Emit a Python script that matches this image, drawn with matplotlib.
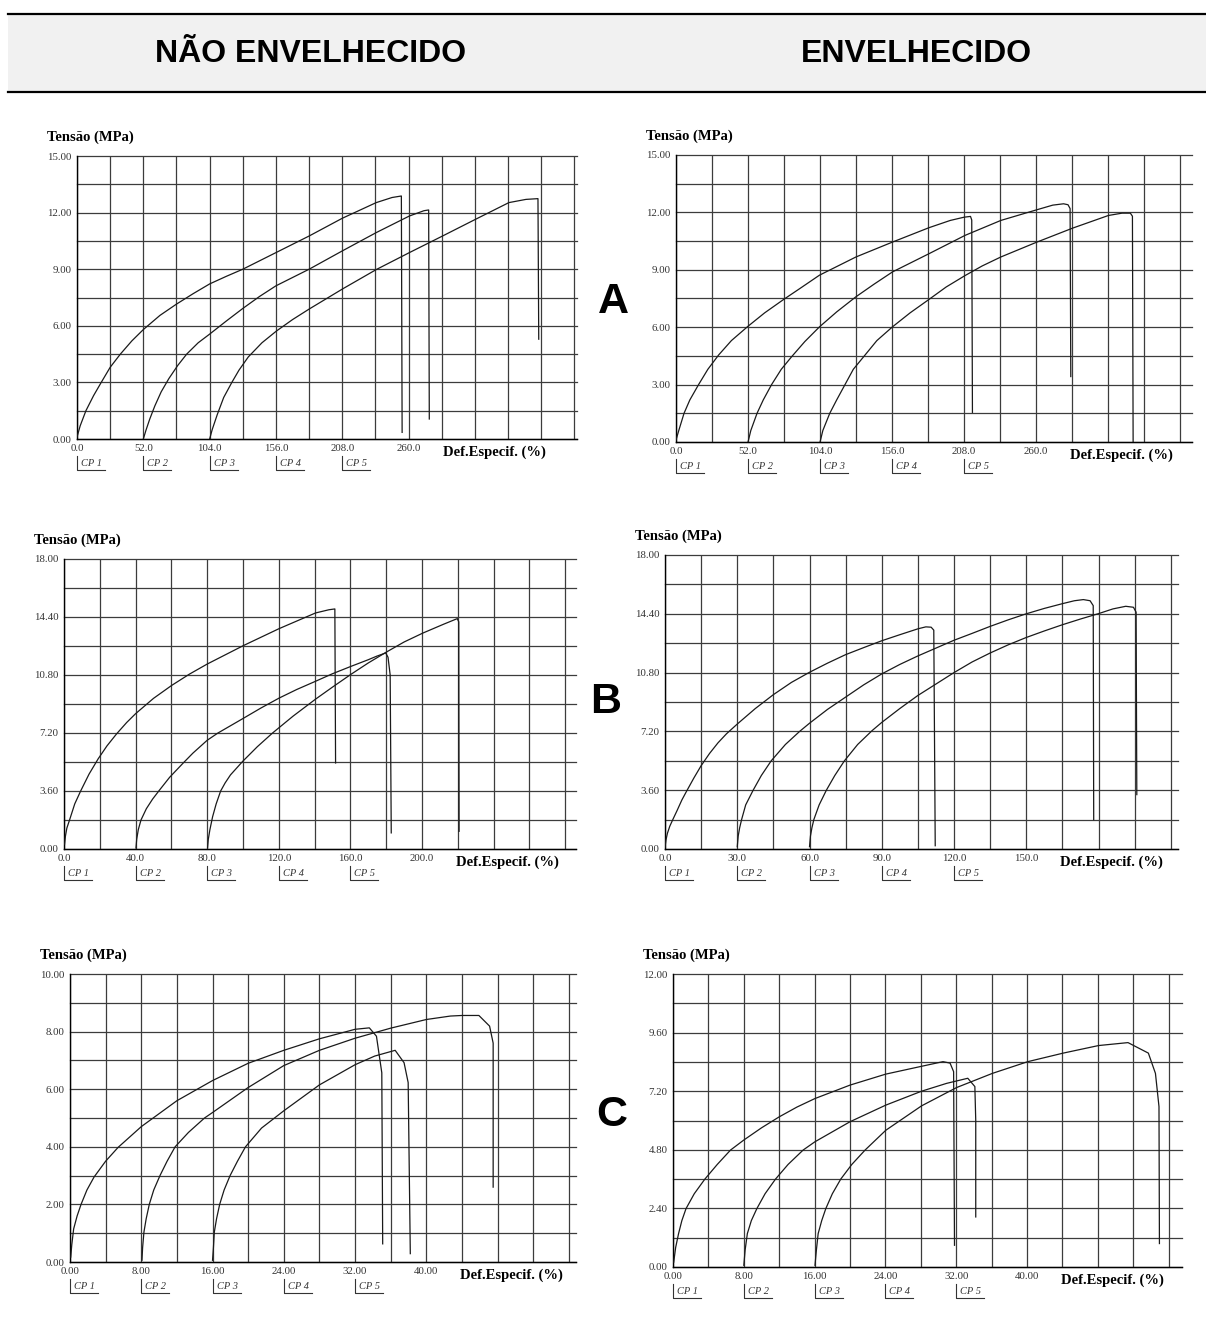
import numpy as np
import matplotlib
matplotlib.use("Agg")
import matplotlib.pyplot as plt
from matplotlib.lines import Line2D
from matplotlib.patches import Rectangle

W, H = 1206, 1334

# ---------------- data ----------------
header_left = "NÃO ENVELHECIDO"
header_right = "ENVELHECIDO"
row_letters = ["A", "B", "C"]
y_title = "Tensão (MPa)"
x_title = "Def.Especif. (%)"
cp_labels = ["CP 1", "CP 2", "CP 3", "CP 4", "CP 5"]

# Row A
a_xticks = [0, 52, 104, 156, 208, 260]
a_xticklabels = ["0.0", "52.0", "104.0", "156.0", "208.0", "260.0"]
a_yticks = [0, 3, 6, 9, 12, 15]
a_yticklabels = ["0.00", "3.00", "6.00", "9.00", "12.00", "15.00"]

# A - não envelhecido
al_cp1_x = [0, 2.5, 7, 13, 19, 26, 34, 43, 52, 65, 78, 91, 104, 117, 130, 156, 182, 208, 234.6, 247, 254.3, 254.9]
al_cp1_y = [0.1, 0.7, 1.5, 2.3, 3.0, 3.8, 4.5, 5.2, 5.8, 6.55, 7.15, 7.7, 8.22, 8.62, 9.0, 9.88, 10.76, 11.7, 12.53, 12.8, 12.88, 0.35]
al_cp2_x = [52, 54, 57, 61, 66, 72, 79, 86, 95, 104, 117, 130, 143, 156, 182, 208, 234.6, 260.6, 272, 275.7, 276.2]
al_cp2_y = [0.0, 0.45, 1.05, 1.75, 2.5, 3.2, 3.9, 4.5, 5.1, 5.56, 6.25, 6.92, 7.55, 8.12, 9.0, 9.97, 10.94, 11.82, 12.1, 12.14, 1.06]
al_cp3_x = [104, 106, 110, 115, 121.4, 127, 134.3, 145, 156.3, 169, 182.3, 208.6, 234.6, 260.6, 286.6, 312.6, 338.6, 352, 361.4, 362]
al_cp3_y = [0.0, 0.5, 1.3, 2.2, 3.0, 3.65, 4.35, 5.1, 5.72, 6.33, 6.9, 7.97, 8.98, 9.88, 10.76, 11.65, 12.53, 12.7, 12.74, 5.29]

# A - envelhecido
ar_cp1_x = [0, 2, 5.8, 10, 16.3, 23, 30.8, 40, 52, 64, 77.7, 90, 103.6, 129.9, 156.3, 182.6, 198, 208, 212.6, 213.5, 214]
ar_cp1_y = [0.1, 0.6, 1.5, 2.2, 3.0, 3.8, 4.55, 5.3, 6.05, 6.75, 7.45, 8.05, 8.72, 9.67, 10.45, 11.2, 11.58, 11.75, 11.79, 11.6, 1.55]
ar_cp2_x = [52, 54, 58.5, 63, 69, 76, 83.5, 93, 103.6, 116, 129.9, 143, 156.3, 182.6, 208.7, 234.5, 260.6, 272, 279.8, 283, 284.5, 285]
ar_cp2_y = [0.0, 0.6, 1.5, 2.2, 3.0, 3.8, 4.46, 5.25, 6.02, 6.8, 7.59, 8.25, 8.89, 9.84, 10.8, 11.58, 12.14, 12.38, 12.45, 12.4, 12.2, 3.42]
ar_cp3_x = [104, 106, 111, 116, 122, 128, 135.5, 145, 156.3, 169, 182.6, 195, 208.7, 221, 234.5, 260.6, 286.4, 312.2, 322, 328, 329.5, 330]
ar_cp3_y = [0.0, 0.6, 1.5, 2.2, 3.0, 3.8, 4.46, 5.3, 6.02, 6.75, 7.45, 8.1, 8.7, 9.2, 9.67, 10.45, 11.18, 11.84, 11.96, 11.96, 11.8, 0.0]

# Row B
bl_xticks = [0, 40, 80, 120, 160, 200]
bl_xticklabels = ["0.0", "40.0", "80.0", "120.0", "160.0", "200.0"]
br_xticks = [0, 30, 60, 90, 120, 150]
br_xticklabels = ["0.0", "30.0", "60.0", "90.0", "120.0", "150.0"]
b_yticks = [0, 3.6, 7.2, 10.8, 14.4, 18]
b_yticklabels = ["0.00", "3.60", "7.20", "10.80", "14.40", "18.00"]

bl_cp1_x = [0.3, 0.8, 1.6, 3.1, 6, 9.3, 14, 19.1, 24, 29.4, 35, 40, 50, 60.1, 70, 80, 100.1, 120.2, 140.5, 148, 151.3, 151.7]
bl_cp1_y = [0.3, 0.8, 1.3, 1.8, 2.8, 3.6, 4.65, 5.6, 6.4, 7.15, 7.85, 8.4, 9.35, 10.15, 10.85, 11.48, 12.62, 13.68, 14.65, 14.85, 14.9, 5.34]
bl_cp2_x = [40.2, 40.6, 41.5, 43, 46, 49.5, 53.3, 59, 66.7, 72, 80, 86, 100, 110, 120.2, 130, 140.5, 150, 160.4, 170, 174.5, 179.7, 181, 182.2, 182.8]
bl_cp2_y = [0.06, 0.6, 1.2, 1.8, 2.5, 3.1, 3.65, 4.45, 5.35, 5.95, 6.75, 7.2, 8.1, 8.75, 9.37, 9.9, 10.41, 10.88, 11.34, 11.75, 11.96, 12.17, 11.9, 10.8, 1.0]
bl_cp3_x = [80.2, 80.6, 81.5, 83, 85, 87.5, 90, 93, 99.9, 108, 116.5, 128, 140.5, 150, 160.4, 170, 180.5, 190, 200.4, 212, 219.7, 220.5, 220.7]
bl_cp3_y = [0.06, 0.6, 1.2, 2.0, 2.8, 3.6, 4.1, 4.6, 5.45, 6.35, 7.2, 8.25, 9.3, 10.05, 10.85, 11.55, 12.25, 12.85, 13.4, 13.95, 14.3, 14.1, 1.1]

br_cp1_x = [0, 0.4, 1.0, 2.0, 3.4, 5.0, 7.0, 9.0, 12, 15, 18.5, 22, 25.5, 30, 37.5, 45, 52.5, 60, 67.5, 75, 82.5, 90, 97.5, 105, 108.3, 110.5, 111.6, 112.2]
br_cp1_y = [0.1, 0.55, 0.96, 1.4, 1.85, 2.35, 3.0, 3.55, 4.35, 5.1, 5.85, 6.5, 7.05, 7.65, 8.6, 9.45, 10.2, 10.82, 11.38, 11.9, 12.33, 12.75, 13.12, 13.48, 13.6, 13.58, 13.4, 0.2]
br_cp2_x = [30, 30.4, 31, 31.8, 33.5, 36.6, 40, 44.1, 50, 55.9, 60, 67.5, 75, 82.5, 90, 97.5, 105, 112.5, 120, 127.5, 135, 142.5, 150, 157.5, 165, 170, 173.7, 176.5, 177.8, 178]
br_cp2_y = [0.14, 0.8, 1.3, 1.8, 2.7, 3.6, 4.5, 5.4, 6.4, 7.2, 7.7, 8.55, 9.3, 10.05, 10.72, 11.3, 11.82, 12.3, 12.78, 13.2, 13.63, 14.03, 14.4, 14.73, 15.02, 15.2, 15.27, 15.2, 14.9, 1.8]
br_cp3_x = [60, 60.4, 61, 61.8, 64, 67, 70.5, 74.5, 80, 86, 90, 97.5, 105, 112.5, 120, 127.5, 135, 142.5, 150, 157.5, 165, 172.5, 180, 186, 191.3, 194.5, 195.6, 195.9]
br_cp3_y = [0.14, 0.8, 1.3, 1.8, 2.7, 3.6, 4.5, 5.4, 6.4, 7.25, 7.75, 8.6, 9.4, 10.1, 10.8, 11.45, 12.0, 12.5, 12.95, 13.35, 13.73, 14.08, 14.41, 14.7, 14.86, 14.8, 14.5, 3.33]

# Row C
c_xticks = [0, 8, 16, 24, 32, 40]
c_xticklabels = ["0.00", "8.00", "16.00", "24.00", "32.00", "40.00"]
cl_yticks = [0, 2, 4, 6, 8, 10]
cl_yticklabels = ["0.00", "2.00", "4.00", "6.00", "8.00", "10.00"]
cr_yticks = [0, 2.4, 4.8, 7.2, 9.6, 12]
cr_yticklabels = ["0.00", "2.40", "4.80", "7.20", "9.60", "12.00"]

cl_cp1_x = [0.08, 0.2, 0.41, 0.8, 1.24, 1.9, 2.7, 4, 5.4, 8, 12, 16, 20, 24, 28, 32, 33.6, 34.4, 35, 35.1]
cl_cp1_y = [0.17, 0.6, 1.15, 1.6, 2.0, 2.5, 2.95, 3.5, 3.98, 4.7, 5.6, 6.3, 6.9, 7.35, 7.75, 8.08, 8.13, 7.84, 6.57, 0.63]
cl_cp2_x = [8.08, 8.15, 8.3, 8.55, 8.9, 9.4, 10.1, 10.9, 11.8, 13.3, 15.1, 16, 19.96, 24, 28, 32, 36, 40, 42.7, 44, 45.9, 47.1, 47.5, 47.5]
cl_cp2_y = [0.06, 0.5, 1.04, 1.5, 2.0, 2.5, 3.0, 3.5, 4.0, 4.5, 5.0, 5.19, 6.05, 6.82, 7.35, 7.77, 8.12, 8.42, 8.54, 8.56, 8.56, 8.19, 7.6, 2.6]
cl_cp3_x = [16.0, 16.1, 16.2, 16.45, 16.8, 17.3, 17.97, 18.8, 19.7, 21.5, 24, 28, 32, 34.2, 36.5, 37.5, 37.96, 38.2]
cl_cp3_y = [0.06, 0.5, 1.04, 1.5, 2.0, 2.5, 3.0, 3.5, 4.0, 4.65, 5.25, 6.15, 6.85, 7.15, 7.35, 6.92, 6.23, 0.29]

cr_cp1_x = [0.08, 0.3, 0.63, 1.0, 1.47, 2.4, 3.6, 5, 6.5, 8, 10, 12, 14, 16.04, 20, 24.04, 28.08, 30.5, 31.3, 31.7, 31.8]
cr_cp1_y = [0.2, 0.8, 1.37, 1.9, 2.39, 3.0, 3.6, 4.2, 4.79, 5.2, 5.7, 6.15, 6.55, 6.9, 7.45, 7.9, 8.22, 8.41, 8.35, 8.0, 0.89]
cr_cp2_x = [8.0, 8.15, 8.4, 8.85, 9.47, 10.4, 11.58, 13, 14.7, 16.04, 20, 24.04, 28.08, 30.9, 33.3, 34.1, 34.2, 34.2]
cr_cp2_y = [0.07, 0.7, 1.37, 1.9, 2.39, 3.0, 3.6, 4.2, 4.79, 5.13, 5.95, 6.63, 7.2, 7.52, 7.73, 7.39, 6.0, 2.05]
cr_cp3_x = [16.04, 16.2, 16.4, 16.8, 17.26, 18, 18.95, 20.2, 21.7, 24.04, 28.08, 32.04, 36.08, 40.08, 44.08, 48.08, 51.4, 53.7, 54.5, 54.9, 54.95]
cr_cp3_y = [0.07, 0.7, 1.37, 1.9, 2.39, 3.0, 3.6, 4.2, 4.79, 5.6, 6.6, 7.35, 7.93, 8.41, 8.76, 9.07, 9.19, 8.76, 7.93, 6.57, 0.96]

# ---------------- layout / style ----------------
SERIF = ["Liberation Serif", "DejaVu Serif"]
SANS = ["Liberation Sans", "DejaVu Sans"]
GRID_C = "#3c3c3c"
CURVE_C = "#1a1a1a"
TICK_C = "#333333"

fig = plt.figure(figsize=(W / 100, H / 100), dpi=100)


def fx(x):
    return x / W


def fy(y):
    return 1 - y / H


# header
fig.add_artist(Rectangle((fx(8), fy(92)), fx(1206) - fx(8), fy(14) - fy(92),
                         transform=fig.transFigure, facecolor="#f1f1f1", edgecolor="none"))
for yy in (14, 92):
    fig.add_artist(Line2D([fx(8), fx(1206)], [fy(yy), fy(yy)], transform=fig.transFigure,
                          color="black", lw=1.6))
fig.text(fx(311), fy(54), header_left, ha="center", va="center", fontsize=23,
         fontweight="bold", family=SANS)
fig.text(fx(916), fy(54), header_right, ha="center", va="center", fontsize=23,
         fontweight="bold", family=SANS)

for letter, (lx, ly) in zip(row_letters, [(613, 302), (606, 702), (612, 1115)]):
    fig.text(fx(lx), fy(ly), letter, ha="center", va="center", fontsize=31,
             fontweight="bold", family=SANS)


def panel(box, xlim, xgrid_step, xgrid_max, ylim, ygrid_step, xticks, xticklabels,
          yticks, yticklabels, curves):
    x0, y0, x1, y1 = box
    ax = fig.add_axes([fx(x0), fy(y1), fx(x1) - fx(x0), fy(y0) - fy(y1)])
    ax.set_xlim(0, xlim)
    ax.set_ylim(0, ylim)
    for gx in np.arange(0, xgrid_max + 1e-6, xgrid_step):
        ax.axvline(gx, color=GRID_C, lw=0.9, zorder=1)
    for gy in np.arange(0, ylim + 1e-6, ygrid_step):
        ax.axhline(gy, color=GRID_C, lw=0.9, zorder=1, clip_on=False)
    for cx, cy in curves:
        ax.plot(cx, cy, color=CURVE_C, lw=0.9, zorder=3)
    for s in ("top", "right"):
        ax.spines[s].set_visible(False)
    for s in ("left", "bottom"):
        ax.spines[s].set_color("black")
        ax.spines[s].set_linewidth(1.0)
    ax.set_xticks(xticks, xticklabels)
    ax.set_yticks(yticks, yticklabels)
    ax.tick_params(length=0, labelsize=7.8, labelcolor=TICK_C)
    ax.tick_params(axis="x", pad=3.5)
    ax.tick_params(axis="y", pad=4)
    for lab in ax.get_xticklabels() + ax.get_yticklabels():
        lab.set_family(SERIF)
    ax.set_facecolor("none")
    # titles
    fig.text(fx(x0 - 30), fy(y0 - 19), y_title, ha="left", va="center", fontsize=10.5,
             fontweight="bold", family=SERIF)
    ppu = (x1 - x0) / xlim
    last_px = x0 + xticks[-1] * ppu
    fig.text(fx(last_px + 34), fy(y1 + 13), x_title, ha="left", va="center", fontsize=10.5,
             fontweight="bold", family=SERIF)
    # CP labels
    for t, lab in zip(xticks[:5], cp_labels):
        px = x0 + t * ppu
        fig.add_artist(Line2D([fx(px), fx(px), fx(px + 28)],
                              [fy(y1 + 17), fy(y1 + 31), fy(y1 + 31)],
                              transform=fig.transFigure, color=TICK_C, lw=0.8))
        fig.text(fx(px + 4), fy(y1 + 24.5), lab, ha="left", va="center", fontsize=7.5,
                 style="italic", family=SERIF, color=TICK_C)
    return ax


panel((77, 156, 577, 439), 392, 26, 390, 15, 1.5, a_xticks, a_xticklabels,
      a_yticks, a_yticklabels,
      [(al_cp1_x, al_cp1_y), (al_cp2_x, al_cp2_y), (al_cp3_x, al_cp3_y)])
panel((676, 155, 1192, 442), 372.5, 26, 364, 15, 1.5, a_xticks, a_xticklabels,
      a_yticks, a_yticklabels,
      [(ar_cp1_x, ar_cp1_y), (ar_cp2_x, ar_cp2_y), (ar_cp3_x, ar_cp3_y)])
panel((64, 559, 576, 849), 286, 20, 280, 18, 1.8, bl_xticks, bl_xticklabels,
      b_yticks, b_yticklabels,
      [(bl_cp1_x, bl_cp1_y), (bl_cp2_x, bl_cp2_y), (bl_cp3_x, bl_cp3_y)])
panel((665, 555, 1178, 849), 213, 15, 210, 18, 1.8, br_xticks, br_xticklabels,
      b_yticks, b_yticklabels,
      [(br_cp1_x, br_cp1_y), (br_cp2_x, br_cp2_y), (br_cp3_x, br_cp3_y)])
panel((70, 974, 576, 1262), 56.8, 4, 56, 10, 1.0, c_xticks, c_xticklabels,
      cl_yticks, cl_yticklabels,
      [(cl_cp1_x, cl_cp1_y), (cl_cp2_x, cl_cp2_y), (cl_cp3_x, cl_cp3_y)])
panel((673, 974, 1182, 1267), 57.5, 4, 56, 12, 1.2, c_xticks, c_xticklabels,
      cr_yticks, cr_yticklabels,
      [(cr_cp1_x, cr_cp1_y), (cr_cp2_x, cr_cp2_y), (cr_cp3_x, cr_cp3_y)])

fig.savefig("out.png", dpi=100, facecolor="white")
